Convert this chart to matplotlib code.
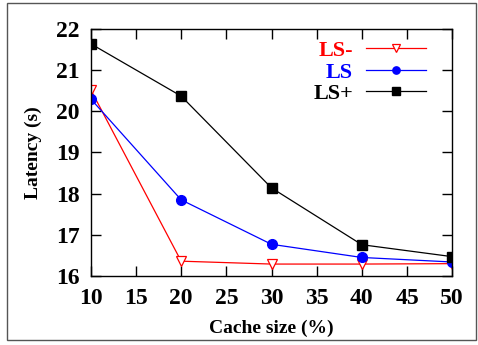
import matplotlib
matplotlib.use("Agg")
import matplotlib.pyplot as plt
from matplotlib.patches import Rectangle

# Data
cache_size = [10, 20, 30, 40, 50]
ls_minus = [20.52, 16.36, 16.29, 16.29, 16.30]
ls = [20.30, 17.85, 16.77, 16.45, 16.34]
ls_plus = [21.64, 20.37, 18.14, 16.76, 16.47]

plt.rcParams['font.family'] = ['Liberation Serif', 'DejaVu Serif']
plt.rcParams['font.weight'] = 'bold'

fig = plt.figure(figsize=(4.78, 3.45), dpi=100)
ax = fig.add_axes([0.190, 0.200, 0.756, 0.716])

# outer frame around the figure
fig.patches.append(Rectangle((0.015, 0.014), 0.98, 0.976, transform=fig.transFigure,
                             fill=False, edgecolor='#555555', linewidth=1.0))

ax.plot(cache_size, ls_minus, color='red', lw=0.9, marker='v', markersize=7,
        markerfacecolor='white', markeredgecolor='red', markeredgewidth=0.9, label='LS-')
ax.plot(cache_size, ls, color='blue', lw=0.9, marker='o', markersize=7,
        markerfacecolor='blue', markeredgecolor='blue', label='LS')
ax.plot(cache_size, ls_plus, color='black', lw=0.9, marker='s', markersize=7,
        markerfacecolor='black', markeredgecolor='black', label='LS+')

ax.set_xlim(10, 50)
ax.set_ylim(16, 22)
ax.set_xticks(range(10, 51, 5))
ax.set_yticks(range(16, 23))
ax.tick_params(direction='in', top=True, right=True, length=7, width=1,
               labelsize=17)
ax.tick_params(axis='x', pad=9)
ax.tick_params(axis='y', pad=8)
for s in ax.spines.values():
    s.set_linewidth(1.0)

ax.set_xlabel('Cache size (%)', fontsize=14, fontweight='bold', labelpad=7)
ax.set_ylabel('Latency (s)', fontsize=14, fontweight='bold', labelpad=10)

leg = ax.legend(loc='upper right', markerfirst=False, frameon=False, fontsize=16,
                handlelength=2.7, handletextpad=0.6, labelspacing=0.05,
                borderaxespad=0.0, markerscale=0.75, bbox_to_anchor=(0.953, 0.99))
for text, line in zip(leg.get_texts(), leg.get_lines()):
    text.set_color(line.get_color())

fig.savefig('out.png', dpi=100)
